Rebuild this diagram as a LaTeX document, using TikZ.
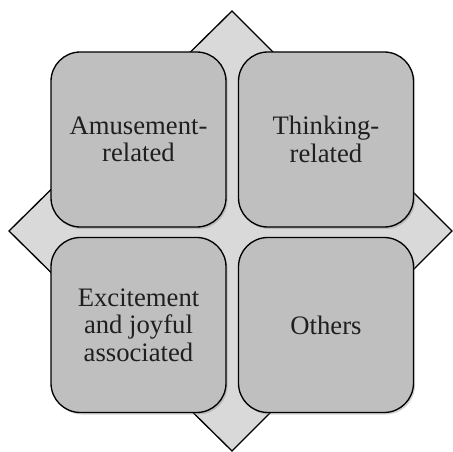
\documentclass[tikz,border=0pt]{standalone}
\usepackage{fontspec}
\setmainfont{Liberation Serif}
\usetikzlibrary{shadows}
\begin{document}
\begin{tikzpicture}[x=0.75pt,y=-0.75pt,
  backdiamond/.style={draw=black, line width=1pt, fill=black!15},
  catbox/.style={draw=black, line width=1pt, fill=black!25, rounded corners=22pt,
    minimum width=175*0.75pt, minimum height=175*0.75pt, align=center,
    font=\fontsize{20pt}{20.5pt}\selectfont, text=black!88,
    drop shadow={shadow xshift=1.2pt, shadow yshift=-1.5pt, opacity=0.35}}]
  \useasboundingbox (0,0) rectangle (453,452);
  % background diamond
  \draw[backdiamond] (232,11) -- (452,231) -- (232,451) -- (9,231) -- cycle;
  % four category boxes
  \node[catbox] (amuse) at (138.5,139.5) {Amusement-\\related};
  \node[catbox] (think) at (326,139.5) {Thinking-\\related};
  \node[catbox] (excite) at (138.5,325) {Excitement\\and joyful\\associated};
  \node[catbox] (others) at (326,325) {Others};
\end{tikzpicture}
\end{document}
